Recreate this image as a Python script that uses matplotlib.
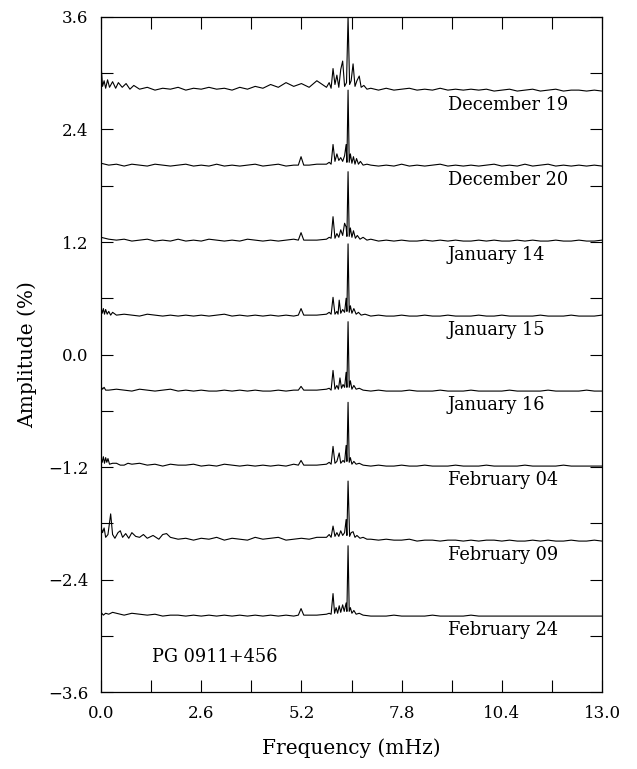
"""Stacked amplitude spectra of PG 0911+456, one trace per night."""
import numpy as np
import matplotlib
matplotlib.use("Agg")
import matplotlib.pyplot as plt
from matplotlib.ticker import MultipleLocator

NIGHTS = ["December 19", "December 20", "January 14", "January 15",
          "January 16", "February 04", "February 09", "February 24"]
OFFSETS = [2.8, 2.0, 1.2, 0.4, -0.4, -1.2, -2.0, -2.8]

# noise floor (%) sampled every 0.2 mHz from 0.0 to 13.0
NOISE_STEP = 0.2
DEC19_NOISE = [0.10, 0.08, 0.10, 0.06, 0.07, 0.03, 0.05, 0.02, 0.04, 0.03, 0.05,
               0.02, 0.04, 0.03, 0.05, 0.03, 0.04, 0.02, 0.05, 0.03, 0.06, 0.04,
               0.08, 0.05, 0.10, 0.06, 0.09, 0.05, 0.12, 0.07, 0.05, 0.05, 0.05,
               0.05, 0.05, 0.04, 0.02, 0.04, 0.02, 0.03, 0.04, 0.02, 0.03, 0.02,
               0.04, 0.02, 0.03, 0.02, 0.03, 0.02, 0.03, 0.01, 0.02, 0.03, 0.01,
               0.02, 0.03, 0.01, 0.02, 0.03, 0.01, 0.02, 0.02, 0.01, 0.02, 0.01]
DEC20_NOISE = [0.04, 0.02, 0.03, 0.01, 0.03, 0.02, 0.01, 0.03, 0.02, 0.01, 0.02,
               0.03, 0.01, 0.02, 0.01, 0.03, 0.01, 0.02, 0.01, 0.02, 0.03, 0.01,
               0.02, 0.03, 0.01, 0.02, 0.02, 0.02, 0.03, 0.02, 0.02, 0.02, 0.02,
               0.02, 0.02, 0.02, 0.01, 0.02, 0.01, 0.03, 0.01, 0.02, 0.01, 0.02,
               0.03, 0.01, 0.02, 0.01, 0.02, 0.01, 0.02, 0.03, 0.01, 0.02, 0.01,
               0.03, 0.01, 0.02, 0.03, 0.01, 0.02, 0.01, 0.02, 0.01, 0.02, 0.01]
JAN14_NOISE = [0.05, 0.03, 0.02, 0.03, 0.01, 0.02, 0.03, 0.01, 0.02, 0.01, 0.03,
               0.01, 0.02, 0.01, 0.03, 0.02, 0.01, 0.02, 0.01, 0.03, 0.02, 0.01,
               0.02, 0.01, 0.02, 0.03, 0.02, 0.02, 0.02, 0.03, 0.02, 0.02, 0.02,
               0.02, 0.02, 0.03, 0.01, 0.02, 0.01, 0.02, 0.01, 0.01, 0.02, 0.01,
               0.02, 0.01, 0.02, 0.01, 0.01, 0.02, 0.01, 0.02, 0.01, 0.01, 0.02,
               0.01, 0.02, 0.01, 0.01, 0.02, 0.01, 0.01, 0.02, 0.01, 0.01, 0.02]
JAN15_NOISE = [0.05, 0.03, 0.02, 0.03, 0.02, 0.01, 0.03, 0.02, 0.01, 0.02, 0.01,
               0.02, 0.01, 0.02, 0.01, 0.02, 0.03, 0.01, 0.02, 0.01, 0.02, 0.01,
               0.02, 0.01, 0.02, 0.01, 0.02, 0.02, 0.02, 0.02, 0.02, 0.02, 0.02,
               0.02, 0.02, 0.01, 0.02, 0.01, 0.01, 0.02, 0.01, 0.01, 0.02, 0.01,
               0.01, 0.02, 0.01, 0.01, 0.01, 0.02, 0.01, 0.01, 0.02, 0.01, 0.01,
               0.01, 0.01, 0.02, 0.01, 0.01, 0.01, 0.02, 0.01, 0.01, 0.01, 0.02]
JAN16_NOISE = [0.04, 0.02, 0.03, 0.02, 0.01, 0.03, 0.02, 0.01, 0.02, 0.03, 0.01,
               0.02, 0.01, 0.02, 0.01, 0.01, 0.02, 0.01, 0.02, 0.01, 0.02, 0.01,
               0.01, 0.02, 0.01, 0.02, 0.01, 0.02, 0.02, 0.02, 0.02, 0.02, 0.02,
               0.02, 0.02, 0.01, 0.02, 0.01, 0.01, 0.01, 0.02, 0.01, 0.01, 0.01,
               0.02, 0.01, 0.01, 0.01, 0.02, 0.01, 0.01, 0.01, 0.01, 0.02, 0.01,
               0.01, 0.01, 0.01, 0.02, 0.01, 0.01, 0.01, 0.01, 0.02, 0.01, 0.01]
FEB04_NOISE = [0.08, 0.03, 0.04, 0.02, 0.03, 0.04, 0.02, 0.03, 0.01, 0.03, 0.02,
               0.02, 0.03, 0.01, 0.02, 0.01, 0.03, 0.02, 0.01, 0.02, 0.01, 0.02,
               0.01, 0.02, 0.01, 0.03, 0.02, 0.02, 0.02, 0.02, 0.02, 0.02, 0.02,
               0.02, 0.02, 0.01, 0.02, 0.01, 0.01, 0.02, 0.01, 0.01, 0.02, 0.01,
               0.01, 0.01, 0.02, 0.01, 0.01, 0.01, 0.02, 0.01, 0.01, 0.01, 0.01,
               0.02, 0.01, 0.01, 0.01, 0.01, 0.02, 0.01, 0.01, 0.01, 0.01, 0.01]
FEB09_NOISE = [0.12, 0.07, 0.10, 0.08, 0.09, 0.05, 0.06, 0.07, 0.08, 0.05, 0.03,
               0.04, 0.02, 0.04, 0.03, 0.05, 0.02, 0.04, 0.03, 0.02, 0.05, 0.03,
               0.04, 0.05, 0.02, 0.03, 0.04, 0.03, 0.05, 0.04, 0.05, 0.05, 0.05,
               0.05, 0.05, 0.03, 0.02, 0.03, 0.02, 0.02, 0.03, 0.01, 0.02, 0.02,
               0.01, 0.02, 0.02, 0.01, 0.02, 0.01, 0.02, 0.02, 0.01, 0.02, 0.01,
               0.01, 0.02, 0.01, 0.02, 0.01, 0.01, 0.02, 0.01, 0.01, 0.02, 0.01]
FEB24_NOISE = [0.05, 0.03, 0.04, 0.02, 0.04, 0.03, 0.02, 0.03, 0.01, 0.02, 0.02,
               0.01, 0.02, 0.01, 0.02, 0.01, 0.02, 0.01, 0.02, 0.01, 0.02, 0.01,
               0.02, 0.01, 0.02, 0.01, 0.02, 0.02, 0.02, 0.02, 0.02, 0.02, 0.02,
               0.02, 0.02, 0.01, 0.01, 0.01, 0.02, 0.01, 0.01, 0.01, 0.01, 0.02,
               0.01, 0.01, 0.01, 0.01, 0.02, 0.01, 0.01, 0.01, 0.01, 0.01, 0.01,
               0.01, 0.01, 0.01, 0.01, 0.01, 0.01, 0.01, 0.01, 0.01, 0.01, 0.01]

# resolved features (frequency mHz, amplitude %)
DEC19_PEAKS = [(0.0, 0.30), (0.04, 0.06), (0.08, 0.12), (0.12, 0.04), (0.17, 0.13),
               (0.22, 0.05), (0.30, 0.11), (0.38, 0.04), (0.45, 0.10), (0.55, 0.05),
               (0.65, 0.09), (0.75, 0.03), (0.85, 0.07),
               (5.85, 0.05), (5.92, 0.10), (5.97, 0.04), (6.02, 0.25), (6.07, 0.08),
               (6.12, 0.18), (6.17, 0.05), (6.22, 0.24), (6.27, 0.33), (6.32, 0.06),
               (6.37, 0.10), (6.41, 0.80), (6.45, 0.08), (6.49, 0.12), (6.54, 0.30),
               (6.59, 0.06), (6.64, 0.12), (6.70, 0.17), (6.75, 0.05), (6.82, 0.07),
               (6.90, 0.03)]
DEC20_PEAKS = [(5.12, 0.02), (5.19, 0.11), (5.26, 0.02),
               (5.85, 0.03), (5.92, 0.05), (5.97, 0.03), (6.02, 0.24), (6.07, 0.06),
               (6.12, 0.14), (6.17, 0.07), (6.22, 0.10), (6.27, 0.06), (6.32, 0.12),
               (6.36, 0.24), (6.38, 0.05), (6.41, 0.82), (6.44, 0.05), (6.47, 0.14),
               (6.51, 0.04), (6.55, 0.11), (6.59, 0.03), (6.63, 0.09), (6.68, 0.03),
               (6.73, 0.06), (6.80, 0.02), (6.90, 0.03)]
JAN14_PEAKS = [(5.12, 0.02), (5.19, 0.10), (5.26, 0.02),
               (5.85, 0.03), (5.92, 0.05), (5.97, 0.04), (6.02, 0.27), (6.07, 0.04),
               (6.12, 0.09), (6.17, 0.05), (6.22, 0.13), (6.27, 0.07), (6.32, 0.20),
               (6.36, 0.16), (6.38, 0.06), (6.41, 0.75), (6.44, 0.06), (6.47, 0.15),
               (6.51, 0.05), (6.55, 0.12), (6.60, 0.04), (6.65, 0.07), (6.72, 0.03),
               (6.80, 0.05), (6.90, 0.02)]
JAN15_PEAKS = [(0.0, 0.10), (0.03, 0.04), (0.06, 0.09), (0.09, 0.03), (0.12, 0.08),
               (0.16, 0.03), (0.20, 0.06), (0.25, 0.02), (0.30, 0.05), (0.40, 0.02),
               (5.12, 0.02), (5.19, 0.09), (5.26, 0.02),
               (5.85, 0.03), (5.92, 0.05), (5.97, 0.03), (6.02, 0.21), (6.07, 0.03),
               (6.12, 0.06), (6.15, 0.03), (6.18, 0.18), (6.22, 0.04), (6.27, 0.08),
               (6.32, 0.05), (6.36, 0.20), (6.38, 0.06), (6.41, 0.78), (6.44, 0.05),
               (6.47, 0.12), (6.51, 0.04), (6.56, 0.09), (6.62, 0.03), (6.68, 0.05),
               (6.75, 0.02), (6.85, 0.03)]
JAN16_PEAKS = [(0.0, 0.06), (0.04, 0.03), (0.08, 0.05), (0.12, 0.02),
               (5.12, 0.02), (5.19, 0.06), (5.26, 0.02),
               (5.85, 0.03), (5.92, 0.04), (5.97, 0.02), (6.02, 0.23), (6.07, 0.03),
               (6.12, 0.07), (6.16, 0.03), (6.20, 0.15), (6.24, 0.04), (6.28, 0.08),
               (6.32, 0.05), (6.36, 0.21), (6.38, 0.05), (6.41, 0.75), (6.44, 0.05),
               (6.47, 0.12), (6.51, 0.03), (6.56, 0.07), (6.62, 0.03), (6.70, 0.04),
               (6.80, 0.02)]
FEB04_PEAKS = [(0.0, 0.10), (0.03, 0.05), (0.06, 0.11), (0.09, 0.04), (0.12, 0.10),
               (0.15, 0.05), (0.18, 0.09), (0.22, 0.03), (0.30, 0.04), (0.50, 0.02),
               (0.70, 0.04),
               (5.12, 0.02), (5.19, 0.07), (5.26, 0.02),
               (5.85, 0.03), (5.92, 0.05), (5.97, 0.03), (6.02, 0.22), (6.07, 0.04),
               (6.12, 0.06), (6.18, 0.15), (6.22, 0.04), (6.28, 0.07), (6.32, 0.05),
               (6.36, 0.23), (6.38, 0.06), (6.41, 0.69), (6.44, 0.05), (6.47, 0.10),
               (6.51, 0.03), (6.56, 0.06), (6.62, 0.03), (6.70, 0.04), (6.80, 0.02)]
FEB09_PEAKS = [(0.0, 0.16), (0.04, 0.10), (0.08, 0.15), (0.12, 0.05), (0.18, 0.08),
               (0.25, 0.30), (0.30, 0.08), (0.36, 0.04), (0.44, 0.10), (0.50, 0.12),
               (0.56, 0.05), (0.64, 0.09), (0.72, 0.04), (0.80, 0.10), (0.90, 0.06),
               (1.00, 0.05), (1.10, 0.08), (1.20, 0.04), (1.35, 0.07), (1.50, 0.03),
               (1.60, 0.08), (1.70, 0.09), (1.80, 0.05),
               (5.85, 0.05), (5.92, 0.08), (5.97, 0.05), (6.02, 0.17), (6.07, 0.06),
               (6.12, 0.10), (6.17, 0.06), (6.22, 0.12), (6.27, 0.07), (6.32, 0.10),
               (6.36, 0.24), (6.38, 0.07), (6.41, 0.65), (6.45, 0.06), (6.49, 0.10),
               (6.54, 0.11), (6.59, 0.05), (6.64, 0.07), (6.72, 0.04), (6.80, 0.05),
               (6.90, 0.03)]
FEB24_PEAKS = [(0.0, 0.05), (0.06, 0.02), (0.12, 0.04), (0.20, 0.03), (0.30, 0.05),
               (5.12, 0.02), (5.19, 0.09), (5.26, 0.02),
               (5.85, 0.03), (5.92, 0.04), (5.97, 0.03), (6.02, 0.25), (6.06, 0.04),
               (6.10, 0.10), (6.14, 0.04), (6.18, 0.12), (6.22, 0.05), (6.27, 0.13),
               (6.31, 0.06), (6.36, 0.15), (6.38, 0.06), (6.41, 0.76), (6.44, 0.06),
               (6.47, 0.10), (6.51, 0.04), (6.56, 0.07), (6.62, 0.03), (6.70, 0.04),
               (6.80, 0.02)]

NOISE = [DEC19_NOISE, DEC20_NOISE, JAN14_NOISE, JAN15_NOISE,
         JAN16_NOISE, FEB04_NOISE, FEB09_NOISE, FEB24_NOISE]
PEAKS = [DEC19_PEAKS, DEC20_PEAKS, JAN14_PEAKS, JAN15_PEAKS,
         JAN16_PEAKS, FEB04_PEAKS, FEB09_PEAKS, FEB24_PEAKS]

FONT = "DejaVu Serif"


def build_trace(noise, peaks):
    nf = np.arange(len(noise)) * NOISE_STEP
    na = np.array(noise)
    pf = np.array([p[0] for p in peaks])
    pa = np.array([p[1] for p in peaks])
    # drop coarse samples that sit on top of a resolved feature
    keep = np.array([np.min(np.abs(pf - f)) > 0.08 for f in nf])
    f = np.concatenate([nf[keep], pf])
    a = np.concatenate([na[keep], pa])
    order = np.argsort(f)
    return f[order], a[order]


def main():
    fig = plt.figure(figsize=(6.37, 7.69), dpi=100)
    ax = fig.add_axes([0.1586, 0.1001, 0.7865, 0.8778])

    for name, off, noise, peaks in zip(NIGHTS, OFFSETS, NOISE, PEAKS):
        f, a = build_trace(noise, peaks)
        ax.plot(f, a + off, color="black", linewidth=0.8)
        ax.text(9.0, off - 0.14, name, family=FONT, fontsize=12.8,
                ha="left", va="center")

    ax.text(1.33, -3.23, "PG 0911+456", family=FONT, fontsize=12.8,
            ha="left", va="center")

    ax.set_xlim(0, 13.0)
    ax.set_ylim(-3.6, 3.6)
    ax.xaxis.set_major_locator(MultipleLocator(2.6))
    ax.xaxis.set_minor_locator(MultipleLocator(1.3))
    ax.yaxis.set_major_locator(MultipleLocator(1.2))
    ax.yaxis.set_minor_locator(MultipleLocator(0.6))
    ax.xaxis.set_major_formatter(plt.FuncFormatter(lambda v, p: f"{v:.1f}"))
    ax.yaxis.set_major_formatter(plt.FuncFormatter(
        lambda v, p: f"{v:.1f}".replace("-", "\u2212")))
    for which in ("major", "minor"):
        ax.tick_params(axis="both", which=which, direction="in", length=8.5,
                       width=0.8, top=True, right=True)
    ax.tick_params(axis="both", which="major", labelsize=12, pad=9)
    for lab in ax.get_xticklabels() + ax.get_yticklabels():
        lab.set_family(FONT)
    for sp in ax.spines.values():
        sp.set_linewidth(0.9)

    ax.set_xlabel("Frequency (mHz)", family=FONT, fontsize=14.5, labelpad=12)
    ax.set_ylabel("Amplitude (%)", family=FONT, fontsize=14.5, labelpad=8)

    fig.savefig("out.png", dpi=100)


if __name__ == "__main__":
    main()
